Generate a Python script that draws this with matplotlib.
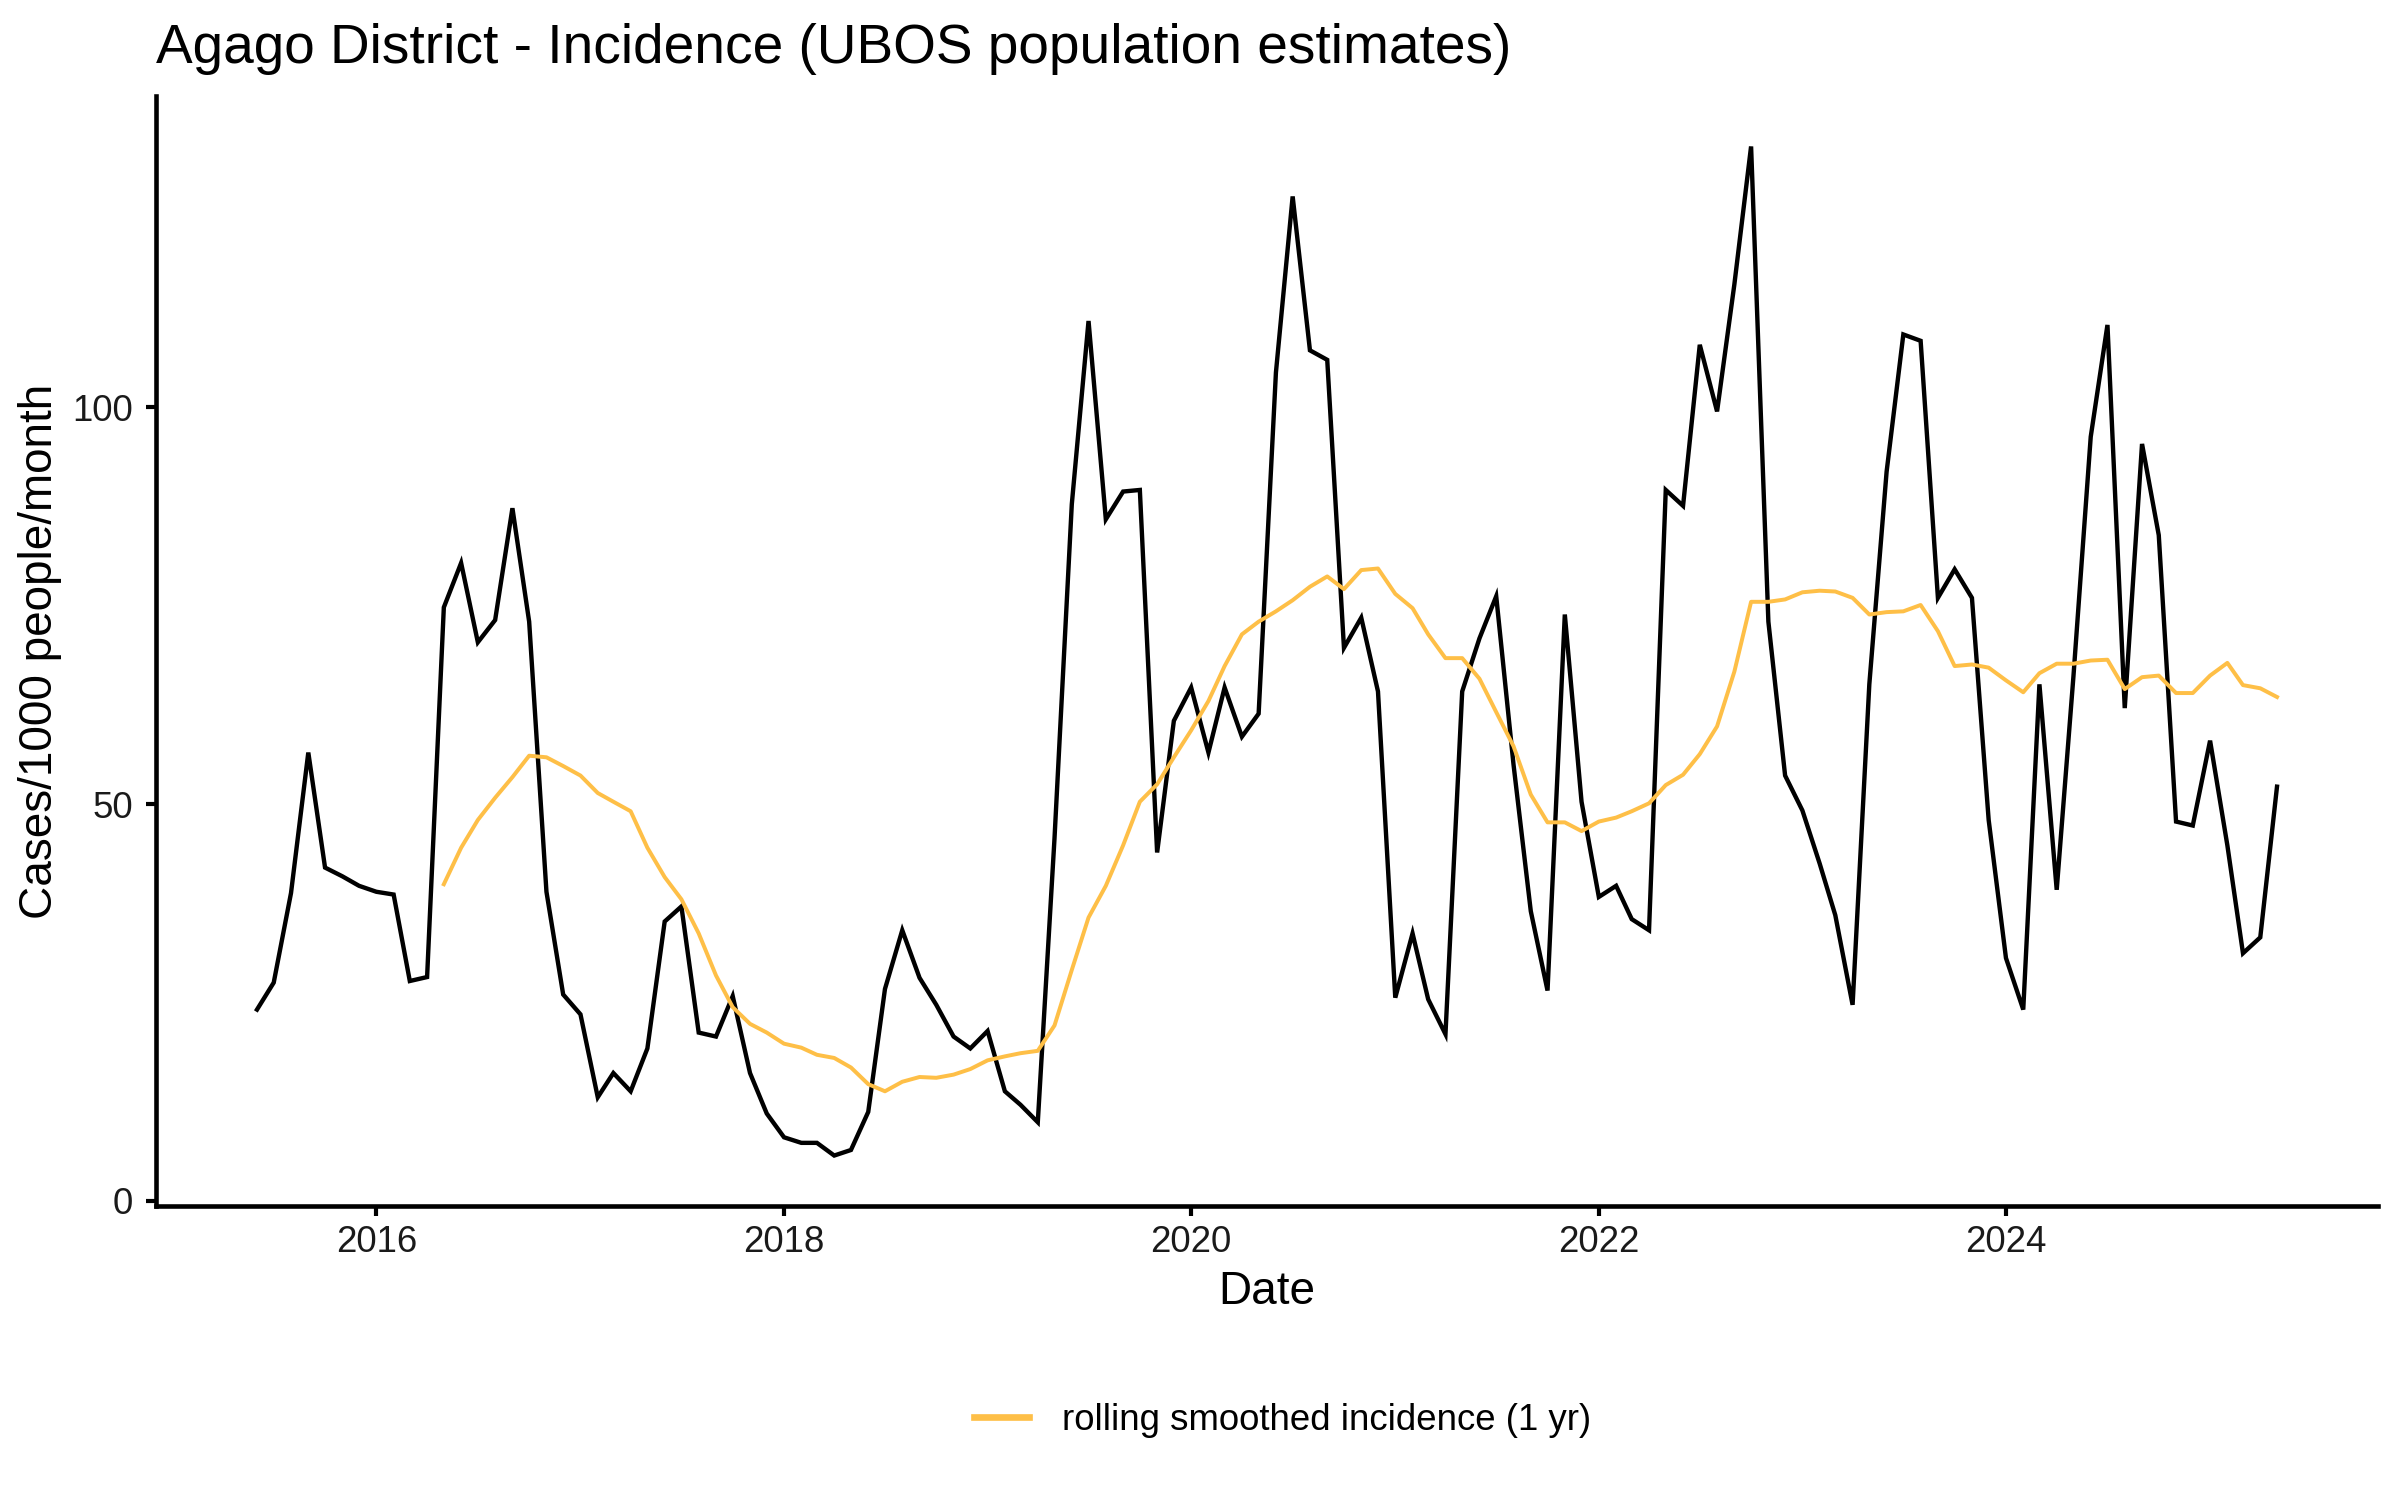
import matplotlib
matplotlib.use("Agg")
import matplotlib.pyplot as plt
import matplotlib.dates as mdates
from matplotlib.lines import Line2D
import pandas as pd

plt.rcParams['font.family'] = ['Liberation Sans', 'DejaVu Sans']

# ---- data ----
start_month = "2015-06-01"
incidence = [
    24.1, 27.5, 38.8, 56.5, 42.0, 40.9, 39.7, 38.95, 38.6, 27.7, 28.2, 74.8,
    80.4, 70.4, 73.2, 87.3, 73.0, 38.95, 26.0, 23.5, 13.05, 16.1, 13.8, 19.2,
    35.2, 37.1, 21.2, 20.7, 25.8, 16.1, 11.0, 8.0, 7.3, 7.3, 5.7, 6.4,
    11.2, 26.7, 34.1, 28.1, 24.7, 20.7, 19.2, 21.4, 13.8, 12.1, 9.9, 45.7,
    87.8, 110.9, 85.9, 89.4, 89.6, 43.9, 60.5, 64.7, 56.5, 64.7, 58.5, 61.4,
    104.4, 126.6, 107.2, 106.0, 69.7, 73.5, 64.2, 25.6, 33.7, 25.4, 21.0, 64.2,
    70.9, 76.2, 55.0, 36.5, 26.5, 73.9, 50.3, 38.3, 39.7, 35.5, 34.1, 89.6,
    87.6, 107.9, 99.5, 115.5, 132.9, 73.0, 53.6, 49.2, 42.5, 36.0, 24.7, 65.1,
    91.9, 109.2, 108.4, 76.0, 79.6, 76.0, 48.0, 30.6, 24.1, 65.1, 39.2, 66.1,
    96.3, 110.4, 62.1, 95.4, 83.9, 47.8, 47.3, 58.0, 44.8, 31.2, 33.2, 52.2,
]
rolling_start = "2016-05-01"
rolling = [
    39.9, 44.5, 48.0, 50.8, 53.4, 56.1, 55.9, 54.8, 53.6, 51.4, 50.3, 49.1,
    44.5, 40.8, 38.0, 33.7, 28.4, 24.4, 22.3, 21.2, 19.8, 19.3, 18.4, 18.0,
    16.8, 14.7, 13.8, 15.0, 15.6, 15.5, 15.9, 16.6, 17.7, 18.2, 18.6, 18.9,
    22.1, 29.1, 35.7, 39.7, 44.8, 50.3, 52.5, 55.9, 59.3, 63.0, 67.4, 71.4,
    73.0, 74.3, 75.7, 77.4, 78.7, 77.1, 79.5, 79.7, 76.5, 74.7, 71.4, 68.4,
    68.4, 65.8, 61.6, 57.3, 51.2, 47.7, 47.7, 46.6, 47.8, 48.3, 49.1, 50.1,
    52.4, 53.7, 56.3, 59.8, 66.7, 75.5, 75.5, 75.8, 76.7, 76.9, 76.8, 76.0,
    73.9, 74.2, 74.3, 75.1, 71.8, 67.4, 67.6, 67.2, 65.6, 64.1, 66.5, 67.7,
    67.7, 68.1, 68.2, 64.5, 66.0, 66.2, 64.0, 64.0, 66.2, 67.8, 65.0, 64.6,
    63.5,
]
title = "Agago District - Incidence (UBOS population estimates)"
x_label = "Date"
y_label = "Cases/1000 people/month"
legend_label = "rolling smoothed incidence (1 yr)"
y_ticks = [0, 50, 100]

dates = pd.date_range(start_month, periods=len(incidence), freq="MS")
rdates = pd.date_range(rolling_start, periods=len(rolling), freq="MS")

# ---- figure ----
W, H = 2400, 1500
fig = plt.figure(figsize=(8, 5), dpi=300)
ax = fig.add_axes([156 / W, 1 - 1206 / H, (2378 - 156) / W, (1206 - 96) / H])

ax.plot(dates, incidence, color="black", lw=1.05, solid_joinstyle="miter")
line_roll, = ax.plot(rdates, rolling, color="#FEBF47", lw=0.95)

# ggplot-like 5% expansion
xmin, xmax = mdates.date2num(dates[0]), mdates.date2num(dates[-1])
xr = xmax - xmin
ax.set_xlim(xmin - 0.05 * xr, xmax + 0.05 * xr)
ymin = min(min(incidence), min(rolling))
ymax = max(max(incidence), max(rolling))
yr = ymax - ymin
ax.set_ylim(ymin - 0.05 * yr, ymax + 0.05 * yr)

ax.xaxis.set_major_locator(mdates.YearLocator(2))
ax.xaxis.set_major_formatter(mdates.DateFormatter("%Y"))
ax.set_yticks(y_ticks)

for s in ["top", "right"]:
    ax.spines[s].set_visible(False)
for s in ["left", "bottom"]:
    ax.spines[s].set_linewidth(1.1)
    ax.spines[s].set_color("black")
ax.tick_params(axis="both", length=2.3, width=1.0, color="black",
               labelsize=8.8, labelcolor="#1a1a1a")
ax.tick_params(axis="x", pad=2.2)
ax.tick_params(axis="y", pad=3.2)

fig.text(156 / W, 1 - 63 / H, title, fontsize=13.2, ha="left", va="baseline")
fig.text(1267 / W, 1 - 1304 / H, x_label, fontsize=11, ha="center", va="baseline")
fig.text(40 / W, 1 - 651 / H, y_label, fontsize=11, ha="center", va="center",
         rotation=90)

fig.legend([Line2D([0], [0], color="#FEBF47", lw=1.6)], [legend_label],
           loc="center", bbox_to_anchor=(1283 / W, 1 - 1420 / H),
           frameon=False, fontsize=8.8, handlelength=1.5, handletextpad=0.9,
           borderpad=0, borderaxespad=0)

fig.savefig("out.png", dpi=300)
